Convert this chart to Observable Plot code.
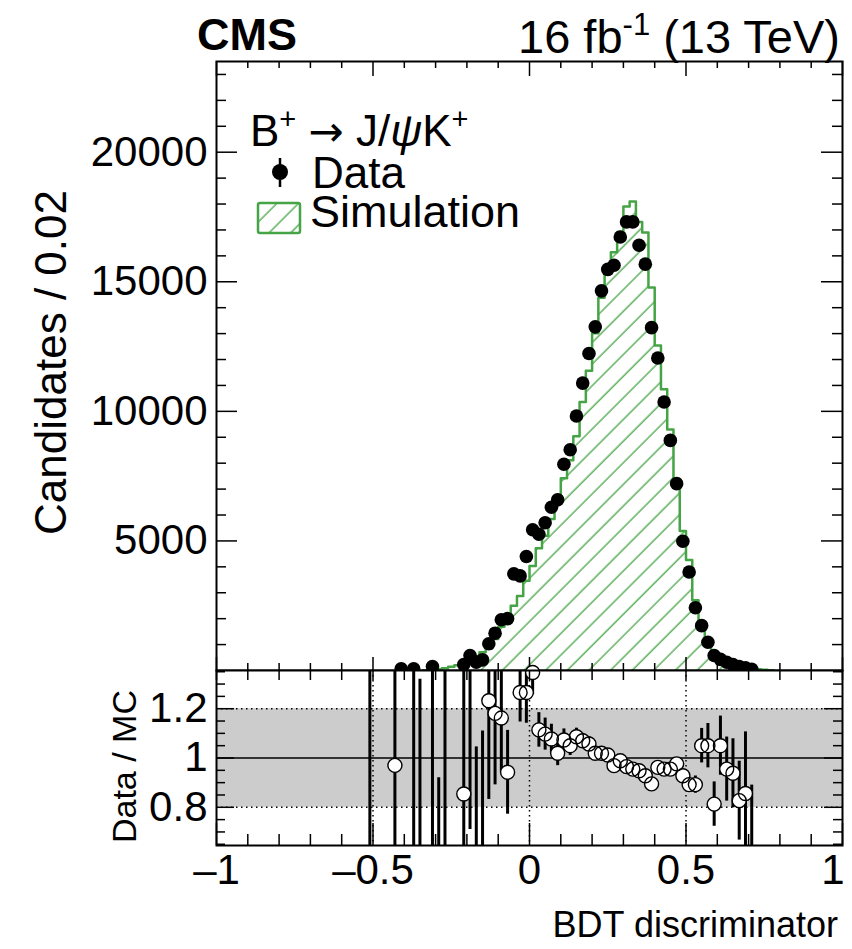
<!DOCTYPE html>
<html><head><meta charset="utf-8">
<script src="https://cdn.jsdelivr.net/npm/d3@7"></script>
<script src="https://cdn.jsdelivr.net/npm/@observablehq/plot@0.6"></script>
<style>
body{margin:0;background:#fff;}
#wrap{position:relative;width:852px;height:949px;overflow:hidden;background:#fff;color:#000}
#wrap svg{position:absolute;left:0;overflow:visible}
</style></head><body><div id="wrap"></div>
<script>
// ---------- data ----------
const binWidth = 0.02;
const mcCenters = [-0.33,-0.31,-0.29,-0.27,-0.25,-0.23,-0.21,-0.19,-0.17,-0.15,-0.13,-0.11,-0.09,-0.07,-0.05,-0.03,-0.01,0.01,0.03,0.05,0.07,0.09,0.11,0.13,0.15,0.17,0.19,0.21,0.23,0.25,0.27,0.29,0.31,0.33,0.35,0.37,0.39,0.41,0.43,0.45,0.47,0.49,0.51,0.53,0.55,0.57,0.59,0.61,0.63,0.65,0.67,0.69,0.71,0.73,0.75,0.77];
const mcValues = [10,25,50,90,140,200,270,340,560,700,840,1220,1690,2120,2500,2870,3460,4030,4720,5200,5850,6470,7420,8110,9040,10360,11570,13010,14380,15300,16140,16920,17900,18100,17310,16900,14780,12540,10850,9300,7390,5380,4260,2710,1650,1040,710,410,335,245,180,117,90,50,25,10];

const dataCenters = [-0.41,-0.37,-0.31,-0.21,-0.19,-0.17,-0.15,-0.13,-0.11,-0.09,-0.07,-0.05,-0.03,-0.01,0.01,0.03,0.05,0.07,0.09,0.11,0.13,0.15,0.17,0.19,0.21,0.23,0.25,0.27,0.29,0.31,0.33,0.35,0.37,0.39,0.41,0.43,0.45,0.47,0.49,0.51,0.53,0.55,0.57,0.59,0.61,0.63,0.65,0.67,0.69,0.71];
const dataValues = [70,70,150,230,580,320,410,1030,1440,1960,2000,3730,3650,4400,5430,5260,5700,6300,6590,7960,8520,9820,11090,12230,13260,14650,15480,15640,16730,17310,17310,16410,15680,13230,12060,10360,8880,7210,4990,3800,2420,1730,1090,580,430,320,230,150,100,50];

const ratioCenters = [-0.51,-0.43,-0.37,-0.35,-0.31,-0.29,-0.27,-0.21,-0.19,-0.17,-0.15,-0.13,-0.11,-0.09,-0.07,-0.05,-0.03,-0.01,0.01,0.03,0.05,0.07,0.09,0.11,0.13,0.15,0.17,0.19,0.21,0.23,0.25,0.27,0.29,0.31,0.33,0.35,0.37,0.39,0.41,0.43,0.45,0.47,0.49,0.51,0.53,0.55,0.57,0.59,0.61,0.63,0.65,0.67,0.69,0.71];
const ratioValues = [2.5,0.97,2.0,0.4,1.6,0.3,2.2,0.854,1.7,0.57,0.59,1.232,1.181,1.162,0.942,1.49,1.266,1.266,1.347,1.114,1.097,1.077,1.019,1.073,1.050,1.086,1.070,1.057,1.019,1.019,1.012,0.969,0.989,0.965,0.955,0.948,0.928,0.895,0.962,0.955,0.955,0.976,0.928,0.892,0.892,1.050,1.050,0.813,1.050,0.955,0.938,0.827,0.856,0.55];
const ratioErrors = [2.2,0.9,1.6,0.92,1.2,0.62,1.8,0.6,0.99,0.475,0.52,0.40,0.29,0.22,0.17,0.12,0.12,0.125,0.09,0.07,0.065,0.06,0.05,0.045,0.04,0.035,0.03,0.03,0.025,0.025,0.02,0.02,0.02,0.02,0.02,0.02,0.02,0.02,0.02,0.02,0.02,0.025,0.025,0.03,0.035,0.07,0.09,0.09,0.12,0.13,0.14,0.16,0.25,0.34];

const xMajorTicks = [-1,-0.5,0,0.5,1];
const xTickLabels = ["\u20131","\u20130.5","0","0.5","1"];
const xMinorTicks = [-0.9,-0.8,-0.7,-0.6,-0.4,-0.3,-0.2,-0.1,0.1,0.2,0.3,0.4,0.6,0.7,0.8,0.9];
const yTicks = [5000,10000,15000,20000];
const yTickLabels = ["5000","10000","15000","20000"];
const yMinorTicks = [1000,2000,3000,4000,6000,7000,8000,9000,11000,12000,13000,14000,16000,17000,18000,19000,21000,22000,23000];
const rTicks = [0.8,1,1.2];
const rTickLabels = ["0.8","1","1.2"];
const rMinorTicks = [0.65,0.7,0.75,0.85,0.9,0.95,1.05,1.1,1.15,1.25,1.3,1.35];
const rBand = [{lo:0.8, hi:1.2}];
const rDotted = [0.8,1.2];
const rVertDotted = [-0.5,0,0.5];

// ---------- layout ----------
const FONT = '"Liberation Sans", Arial, Helvetica, sans-serif';
const W = 852, ML = 216, MR = 10;
const PW = W - ML - MR;
const TOPH = 670, TOPM = 61, PH = TOPH - TOPM;
const RH = 279, RFRAME = 175;
const GREEN = "#45a445";
const xDomain = [-1, 1];

const mcStep = [{x: mcCenters[0] - binWidth/2, y: 0}];
mcCenters.forEach((c, i) => mcStep.push({x: c - binWidth/2, y: mcValues[i]}));
mcStep.push({x: mcCenters[mcCenters.length-1] + binWidth/2, y: mcValues[mcValues.length-1]});
mcStep.push({x: mcCenters[mcCenters.length-1] + binWidth/2, y: 0});
const dataPts = dataCenters.map((c, i) => ({x: c, y: dataValues[i]}));
const ratioPts = ratioCenters.map((c, i) => ({x: c, v: ratioValues[i], lo: ratioValues[i] - ratioErrors[i], hi: ratioValues[i] + ratioErrors[i]}));
const rDomain = [0.645, 1.355];
const inR = d => d.v >= rDomain[0] && d.v <= rDomain[1];

function yTickMarks(ticks, len, sw) {
  return [
    Plot.tickY(ticks, {y: d => d, insetRight: PW - len, stroke: "black", strokeWidth: sw}),
    Plot.tickY(ticks, {y: d => d, insetLeft: PW - len, stroke: "black", strokeWidth: sw})
  ];
}

const topPlot = Plot.plot({
  width: W, height: TOPH,
  marginLeft: ML, marginRight: MR, marginTop: TOPM, marginBottom: 0,
  x: {domain: xDomain, axis: null},
  y: {domain: [0, 23500], axis: null},
  style: {fontFamily: FONT, fontSize: "42px", background: "transparent", overflow: "visible", color: "black"},
  marks: [
    Plot.areaY(mcStep, {x: "x", y: "y", curve: "step-after", fill: "url(#hatch)"}),
    Plot.lineY(mcStep, {x: "x", y: "y", curve: "step-after", stroke: GREEN, strokeWidth: 2.5}),
    Plot.dot(dataPts, {x: "x", y: "y", r: 6.8, fill: "black", stroke: "none"}),
    ...yTickMarks(yTicks, 21, 1.5),
    ...yTickMarks(yMinorTicks, 10, 1.5),
    Plot.tickX(xMajorTicks, {x: d => d, insetTop: PH - 13, stroke: "black", strokeWidth: 1.5}),
    Plot.tickX(xMinorTicks, {x: d => d, insetTop: PH - 7, stroke: "black", strokeWidth: 1.5}),
    Plot.tickX(xMajorTicks, {x: d => d, insetBottom: PH - 15, stroke: "black", strokeWidth: 1.5}),
    Plot.tickX(xMinorTicks, {x: d => d, insetBottom: PH - 7, stroke: "black", strokeWidth: 1.5}),
    Plot.text(yTicks, {y: d => d, text: (d, i) => yTickLabels[i], frameAnchor: "left", textAnchor: "end", dx: -9, fontSize: 42, fill: "black"}),
    Plot.frame({stroke: "black", strokeWidth: 2})
  ]
});
topPlot.style.top = "0px";
d3.select(topPlot).insert("defs", ":first-child").html(
  `<pattern id="hatch" patternUnits="userSpaceOnUse" width="15.3" height="15.3" patternTransform="rotate(45)"><line x1="3" y1="-1" x2="3" y2="16.3" stroke="${GREEN}" stroke-width="1.3"/></pattern>`);

const RMB = RH - RFRAME;
function rTickY(ticks, len) {
  return [
    Plot.tickY(ticks, {y: d => d, insetRight: PW - len, stroke: "black", strokeWidth: 1.5}),
    Plot.tickY(ticks, {y: d => d, insetLeft: PW - len, stroke: "black", strokeWidth: 1.5})
  ];
}
const ratioPlot = Plot.plot({
  width: W, height: RH,
  marginLeft: ML, marginRight: MR, marginTop: 0, marginBottom: RMB,
  x: {domain: xDomain, axis: null},
  y: {domain: rDomain, axis: null},
  style: {fontFamily: FONT, fontSize: "42px", background: "transparent", overflow: "visible", color: "black"},
  marks: [
    Plot.frame({fill: "white", stroke: "none"}),
    Plot.rect(rBand, {y1: "lo", y2: "hi", fill: "#cccccc"}),
    Plot.ruleY(rDotted, {y: d => d, stroke: "black", strokeWidth: 1.5, strokeDasharray: "1.5,3.5"}),
    Plot.ruleY([1], {y: d => d, stroke: "black", strokeWidth: 1.3}),
    Plot.ruleX(rVertDotted, {x: d => d, stroke: "black", strokeWidth: 1.5, strokeDasharray: "1.5,3.5"}),
    Plot.ruleX(ratioPts, {x: "x", y1: "lo", y2: "hi", stroke: "black", strokeWidth: 3, clip: true}),
    Plot.dot(ratioPts, {filter: inR, x: "x", y: "v", r: 7, fill: "white", stroke: "none"}),
    Plot.dot(ratioPts, {filter: inR, x: "x", y: "v", r: 7, fill: "none", stroke: "black", strokeWidth: 1.4}),
    ...rTickY(rTicks, 18),
    ...rTickY(rMinorTicks, 9),
    Plot.tickX(xMajorTicks, {x: d => d, insetTop: RFRAME - 22, stroke: "black", strokeWidth: 1.5}),
    Plot.tickX(xMinorTicks, {x: d => d, insetTop: RFRAME - 11, stroke: "black", strokeWidth: 1.5}),
    Plot.tickX(xMajorTicks, {x: d => d, insetBottom: RFRAME - 10, stroke: "black", strokeWidth: 1.5}),
    Plot.tickX(xMinorTicks, {x: d => d, insetBottom: RFRAME - 10, stroke: "black", strokeWidth: 1.5}),
    Plot.text(rTicks, {y: d => d, text: (d, i) => rTickLabels[i], frameAnchor: "left", textAnchor: "end", dx: -9, fontSize: 42, fill: "black"}),
    Plot.text(xMajorTicks.slice(0, 4), {x: d => d, text: (d, i) => xTickLabels[i], frameAnchor: "bottom", lineAnchor: "top", dy: 9, fontSize: 42, fill: "black"}),
    Plot.text(xMajorTicks.slice(4), {x: d => d, text: (d, i) => xTickLabels[4 + i], frameAnchor: "bottom", lineAnchor: "top", textAnchor: "end", dy: 9, dx: 2, fontSize: 42, fill: "black"}),
    Plot.frame({stroke: "black", strokeWidth: 2})
  ]
});
ratioPlot.style.top = TOPH + "px";

const wrap = document.getElementById("wrap");
wrap.appendChild(topPlot);
wrap.appendChild(ratioPlot);

// ---------- overlay text & legend ----------
const ov = d3.create("svg").attr("width", W).attr("height", 949).style("top", "0px")
  .attr("font-family", FONT).attr("fill", "black");
ov.append("defs").html(`<pattern id="hatch2" patternUnits="userSpaceOnUse" width="15.3" height="15.3" patternTransform="rotate(45)"><line x1="3" y1="-1" x2="3" y2="16.3" stroke="${GREEN}" stroke-width="1.3"/></pattern>`);

ov.append("text").attr("x", 197).attr("y", 50).attr("font-size", 45).attr("font-weight", "bold").text("CMS");

const lumi = ov.append("text").attr("x", 840).attr("y", 53).attr("font-size", 47).attr("text-anchor", "end");
lumi.append("tspan").text("16 fb");
lumi.append("tspan").attr("font-size", 31).attr("dy", -18).text("-1");
lumi.append("tspan").attr("dy", 18).text(" (13 TeV)");

const proc = ov.append("text").attr("x", 250).attr("y", 146).attr("font-size", 44);
proc.append("tspan").text("B");
proc.append("tspan").attr("font-size", 29).attr("dy", -17).text("+");
proc.append("tspan").attr("dy", 17).text(" ");
proc.append("tspan").attr("font-family", '"DejaVu Sans", sans-serif').attr("font-size", 42).text("\u2192");
proc.append("tspan").text(" J/");
proc.append("tspan").attr("font-style", "italic").text("\u03C8");
proc.append("tspan").text("K");
proc.append("tspan").attr("font-size", 29).attr("dy", -17).text("+");

ov.append("line").attr("x1", 280).attr("x2", 280).attr("y1", 158).attr("y2", 187).attr("stroke", "black").attr("stroke-width", 2.5);
ov.append("circle").attr("cx", 280).attr("cy", 172).attr("r", 8).attr("fill", "black");
ov.append("text").attr("x", 312).attr("y", 188).attr("font-size", 44).text("Data");

ov.append("rect").attr("x", 258).attr("y", 203).attr("width", 42).attr("height", 30).attr("rx", 2)
  .attr("fill", "url(#hatch2)").attr("stroke", GREEN).attr("stroke-width", 2.5);
ov.append("text").attr("x", 310).attr("y", 227).attr("font-size", 45).text("Simulation");

ov.append("text").attr("transform", "translate(66,190) rotate(-90)").attr("text-anchor", "end").attr("font-size", 44).text("Candidates / 0.02");
ov.append("text").attr("transform", "translate(136,690) rotate(-90)").attr("text-anchor", "end").attr("font-size", 34).text("Data / MC");
ov.append("text").attr("x", 838).attr("y", 937).attr("text-anchor", "end").attr("font-size", 36).text("BDT discriminator");

ov.style("pointer-events", "none");
wrap.appendChild(ov.node());
</script>
</body></html>
